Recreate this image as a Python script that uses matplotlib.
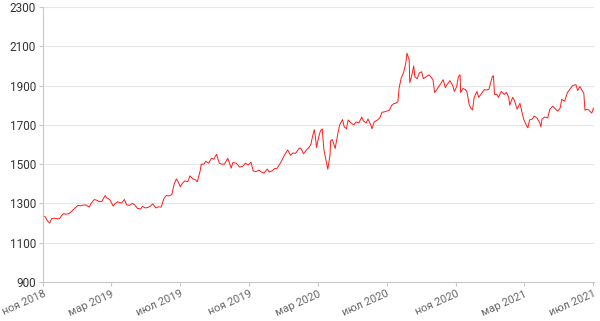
import matplotlib
matplotlib.use("Agg")
import matplotlib.pyplot as plt
import pandas as pd

plt.rcParams['font.family'] = ['Roboto', 'DejaVu Sans']

dates = [
 "2018-11-01","2018-11-05","2018-11-09","2018-11-13","2018-11-16","2018-11-21","2018-11-26","2018-11-30",
 "2018-12-04","2018-12-07","2018-12-12","2018-12-17","2018-12-21","2018-12-27",
 "2019-01-02","2019-01-07","2019-01-11","2019-01-16","2019-01-22","2019-01-25","2019-01-31",
 "2019-02-05","2019-02-08","2019-02-13","2019-02-19","2019-02-22","2019-02-27",
 "2019-03-05","2019-03-08","2019-03-13","2019-03-20","2019-03-25","2019-03-29",
 "2019-04-03","2019-04-08","2019-04-12","2019-04-17","2019-04-23","2019-04-26",
 "2019-05-01","2019-05-06","2019-05-10","2019-05-14","2019-05-20","2019-05-24","2019-05-29",
 "2019-06-03","2019-06-07","2019-06-12","2019-06-17","2019-06-21","2019-06-25","2019-06-28",
 "2019-07-02","2019-07-05","2019-07-10","2019-07-15","2019-07-19","2019-07-24","2019-07-29",
 "2019-08-01","2019-08-06","2019-08-08","2019-08-13","2019-08-16","2019-08-21","2019-08-26","2019-08-30",
 "2019-09-04","2019-09-09","2019-09-13","2019-09-18","2019-09-24","2019-09-30",
 "2019-10-03","2019-10-09","2019-10-15","2019-10-21","2019-10-25","2019-10-30",
 "2019-11-04","2019-11-08","2019-11-13","2019-11-18","2019-11-22","2019-11-27",
 "2019-12-03","2019-12-06","2019-12-11","2019-12-16","2019-12-20","2019-12-27",
 "2020-01-03","2020-01-08","2020-01-13","2020-01-17","2020-01-22","2020-01-28","2020-01-31",
 "2020-02-05","2020-02-10","2020-02-14","2020-02-18","2020-02-21","2020-02-24","2020-02-26","2020-02-28",
 "2020-03-03","2020-03-06","2020-03-09","2020-03-12","2020-03-16","2020-03-19","2020-03-23","2020-03-24","2020-03-27",
 "2020-04-01","2020-04-06","2020-04-09","2020-04-14","2020-04-17","2020-04-21","2020-04-24","2020-04-29",
 "2020-05-04","2020-05-08","2020-05-13","2020-05-18","2020-05-21","2020-05-26","2020-05-29",
 "2020-06-03","2020-06-05","2020-06-09","2020-06-15","2020-06-19","2020-06-23","2020-06-26",
 "2020-07-01","2020-07-06","2020-07-10","2020-07-14","2020-07-17","2020-07-21","2020-07-23","2020-07-27","2020-07-31",
 "2020-08-04","2020-08-06","2020-08-10","2020-08-11","2020-08-14","2020-08-18","2020-08-20","2020-08-24","2020-08-28",
 "2020-09-01","2020-09-04","2020-09-09","2020-09-14","2020-09-17","2020-09-21","2020-09-24","2020-09-28",
 "2020-10-01","2020-10-05","2020-10-09","2020-10-13","2020-10-16","2020-10-21","2020-10-26","2020-10-29",
 "2020-11-02","2020-11-05","2020-11-08","2020-11-09","2020-11-13","2020-11-17","2020-11-20","2020-11-24","2020-11-27","2020-11-30",
 "2020-12-03","2020-12-08","2020-12-11","2020-12-16","2020-12-21","2020-12-24","2020-12-29",
 "2021-01-04","2021-01-06","2021-01-08","2021-01-12","2021-01-15","2021-01-20","2021-01-25","2021-01-29",
 "2021-02-02","2021-02-04","2021-02-09","2021-02-12","2021-02-17","2021-02-22","2021-02-25",
 "2021-03-01","2021-03-05","2021-03-08","2021-03-11","2021-03-16","2021-03-19","2021-03-24","2021-03-29","2021-03-31",
 "2021-04-02","2021-04-07","2021-04-12","2021-04-16","2021-04-21","2021-04-26","2021-04-30",
 "2021-05-04","2021-05-07","2021-05-12","2021-05-17","2021-05-21","2021-05-26",
 "2021-06-01","2021-06-04","2021-06-08","2021-06-11","2021-06-15","2021-06-17","2021-06-21","2021-06-24","2021-06-29",
 "2021-07-02",
]
prices = [
 1233,1232,1210,1200,1222,1225,1222,1222,
 1238,1248,1245,1248,1258,1275,
 1290,1288,1292,1292,1282,1300,1320,
 1315,1310,1310,1340,1328,1320,
 1287,1298,1308,1302,1320,1293,
 1290,1300,1293,1275,1272,1285,
 1277,1280,1286,1298,1277,1283,1281,
 1325,1340,1338,1345,1398,1425,1410,
 1385,1400,1415,1410,1440,1425,1420,
 1410,1465,1500,1500,1515,1505,1530,1525,
 1550,1505,1500,1500,1530,1480,
 1508,1505,1485,1490,1505,1495,
 1510,1465,1462,1470,1460,1455,
 1475,1460,1465,1478,1478,1510,
 1550,1572,1545,1557,1555,1580,1582,
 1553,1572,1583,1600,1642,1675,1640,1585,
 1640,1670,1680,1575,1515,1474,1550,1620,1625,
 1580,1660,1700,1727,1690,1680,1725,1710,
 1700,1715,1710,1740,1720,1710,1730,
 1700,1680,1715,1725,1735,1765,1765,
 1770,1775,1800,1808,1810,1818,1885,1940,1965,
 2015,2065,2030,1915,1945,2000,1945,1935,1965,
 1970,1935,1945,1955,1945,1930,1865,1880,
 1895,1910,1930,1890,1905,1925,1900,1870,
 1895,1945,1955,1865,1885,1880,1870,1805,1785,1776,
 1840,1870,1840,1860,1880,1877,1880,
 1945,1950,1855,1855,1840,1870,1855,1865,
 1840,1800,1840,1825,1780,1810,1770,
 1725,1700,1685,1725,1730,1745,1735,1710,1690,
 1730,1740,1735,1780,1795,1780,1770,
 1785,1830,1820,1865,1880,1900,
 1905,1875,1895,1880,1860,1775,1780,1775,1760,
 1785,
]
tick_dates = ["2018-11-01","2019-03-01","2019-07-01","2019-11-01","2020-03-01",
              "2020-07-01","2020-11-01","2021-03-01","2021-07-01"]
tick_labels = ["ноя 2018","мар 2019","июл 2019","ноя 2019","мар 2020",
               "июл 2020","ноя 2020","мар 2021","июл 2021"]
y_ticks = [900, 1100, 1300, 1500, 1700, 1900, 2100, 2300]

x = pd.to_datetime(dates)

fig = plt.figure(figsize=(6.0, 3.21), dpi=100)
ax = fig.add_axes([43/600, 1-282/321, (594-43)/600, (282-7)/321])
ax.plot(x, prices, color="#ff1a1a", linewidth=0.7)

ax.set_ylim(900, 2300)
ax.set_yticks(y_ticks)
ax.set_xlim(pd.Timestamp("2018-11-01"), pd.Timestamp("2021-07-03"))
ax.set_xticks(pd.to_datetime(tick_dates))
ax.set_xticklabels(tick_labels, rotation=24, ha="right", rotation_mode="anchor")

ax.grid(axis="y", color="#e6e6e6", linewidth=0.8)
ax.set_axisbelow(True)
for s in ["top", "right"]:
    ax.spines[s].set_visible(False)
for s in ["left", "bottom"]:
    ax.spines[s].set_color("#c8c8c8")
    ax.spines[s].set_linewidth(0.8)
ax.tick_params(axis="y", colors="#c8c8c8", labelcolor="#333333", labelsize=8.5, length=3, width=0.8, pad=2)
ax.tick_params(axis="x", colors="#c8c8c8", labelcolor="#666666", labelsize=8, length=3, width=0.8, pad=2)

fig.savefig("out.png", dpi=100)
